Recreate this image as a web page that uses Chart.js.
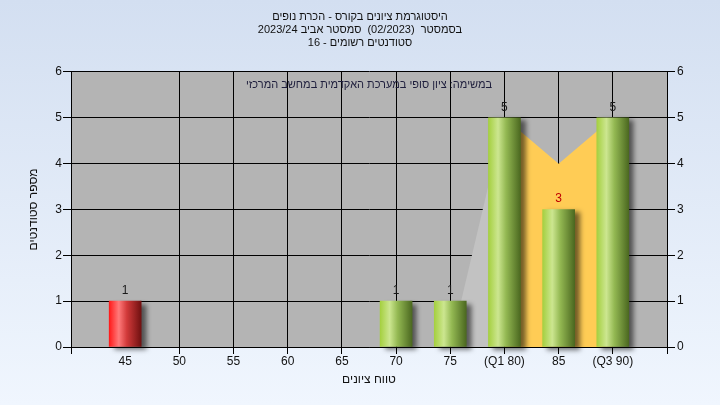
<!DOCTYPE html>
<html><head><meta charset="utf-8">
<script src="https://cdn.jsdelivr.net/npm/chart.js@4"></script>
<style>
html,body{margin:0;padding:0;}
body{width:720px;height:405px;overflow:hidden;background:linear-gradient(#D3DFF1,#F0F6FE);}
</style></head><body>
<canvas id="c" width="720" height="405"></canvas>
<script>
// ---- data ----
const categories = [45, 50, 55, 60, 65, 70, 75, 80, 85, 90];
const tickLabels = ['45', '50', '55', '60', '65', '70', '75', '(Q1 80)', '85', '(Q3 90)'];
const counts = [1, 0, 0, 0, 0, 1, 1, 5, 3, 5];
const iqrX = [80, 85, 90];
const iqrValues = [5, 4, 5];
const rampX = [75, 80];
const rampValues = [0, 5];
const yTicks = [0, 1, 2, 3, 4, 5, 6];
const titleLines = ['היסטוגרמת ציונים בקורס - הכרת נופים', 'בסמסטר  (02/2023)  סמסטר אביב 2023/24', 'סטודנטים רשומים - 16'];
const noteText = 'במשימה: ציון סופי במערכת האקדמית במחשב המרכזי';
const xTitle = 'טווח ציונים';
const yTitle = 'מספר סטודנטים';
const failLimit = 55;
const medianCategory = 85;

// ---- styling ----
const FONT = 'Liberation Sans, Arial, sans-serif';
const BAR_W = 32;

function barFill(ctx) {
  const chart = ctx.chart;
  if (!chart.chartArea || !ctx.raw || !ctx.raw.y) return 'rgba(0,0,0,0)';
  const cx = chart.scales.x.getPixelForValue(ctx.raw.x);
  const g = chart.ctx.createLinearGradient(cx - BAR_W / 2, 0, cx + BAR_W / 2, 0);
  if (ctx.raw.x < failLimit) {
    g.addColorStop(0, '#FF1A1A'); g.addColorStop(0.3, '#FF7A7A');
    g.addColorStop(0.55, '#D23A3A'); g.addColorStop(1, '#701010');
  } else {
    g.addColorStop(0, '#A5D040'); g.addColorStop(0.3, '#CCE690');
    g.addColorStop(0.55, '#93B852'); g.addColorStop(1, '#4B6820');
  }
  return g;
}

const plotBg = {
  id: 'plotBg',
  beforeDraw(chart) {
    const a = chart.chartArea, c = chart.ctx;
    c.save(); c.fillStyle = '#B4B4B4'; c.fillRect(a.left, a.top, a.right - a.left, a.bottom - a.top); c.restore();
  }
};
const shadow = {
  id: 'shadow',
  beforeDatasetDraw(chart, args) {
    if (args.meta.type !== 'bar') return;
    const c = chart.ctx; c.save();
    c.shadowColor = 'rgba(0,0,0,0.55)'; c.shadowBlur = 5; c.shadowOffsetX = 5; c.shadowOffsetY = 3;
  },
  afterDatasetDraw(chart, args) { if (args.meta.type === 'bar') chart.ctx.restore(); }
};
const labels = {
  id: 'labels',
  afterDatasetsDraw(chart) {
    const c = chart.ctx, a = chart.chartArea;
    c.save();
    c.font = '11px ' + FONT; c.textAlign = 'center'; c.textBaseline = 'middle';
    c.fillStyle = '#1E1E3C';
    c.fillText(noteText, (a.left + a.right) / 2, a.top + 13);
    c.font = '12px ' + FONT;
    const meta = chart.getDatasetMeta(0);
    meta.data.forEach((el, i) => {
      const raw = chart.data.datasets[0].data[i];
      if (!raw || !raw.y) return;
      c.fillStyle = raw.x === medianCategory ? '#C00000' : '#1A1A1A';
      c.textBaseline = 'alphabetic';
      c.fillText(String(raw.y), el.x, el.y - 7);
    });
    c.restore();
  }
};

const barData = categories.map((x, i) => ({ x: x, y: counts[i] }));
const iqrData = iqrX.map((x, i) => ({ x: x, y: iqrValues[i] }));
const rampData = rampX.map((x, i) => ({ x: x, y: rampValues[i] }));

new Chart(document.getElementById('c'), {
  type: 'bar',
  data: {
    datasets: [
      { type: 'bar', data: barData, backgroundColor: barFill, borderWidth: 0, barThickness: BAR_W, order: 0, clip: false },
      { type: 'line', data: iqrData, backgroundColor: 'rgb(255,204,85)', borderWidth: 0, pointRadius: 0, fill: 'origin', tension: 0, order: 1 },
      { type: 'line', data: rampData, backgroundColor: '#C2C2C2', borderWidth: 0, pointRadius: 0, fill: 'origin', tension: 0, order: 2 }
    ]
  },
  options: {
    responsive: false, animation: false, devicePixelRatio: 1,
    layout: { padding: 0 },
    plugins: {
      legend: { display: false }, tooltip: { enabled: false },
      title: { display: true, text: titleLines, color: '#111', font: { family: FONT, size: 11, weight: 'normal', lineHeight: 1.15 }, padding: { top: 11, bottom: 23 } }
    },
    scales: {
      x: {
        type: 'linear', min: 40, max: 95, offset: false,
        afterFit(s) { s.height = 58; },
        ticks: { stepSize: 5, autoSkip: false, maxRotation: 0, padding: 0, color: '#111', font: { family: FONT, size: 12 },
          callback(v) { const i = categories.indexOf(v); return i >= 0 ? tickLabels[i] : ''; } },
        grid: { offset: false, color(ctx) { return ctx.tick && ctx.tick.value === categories[0] ? 'rgba(0,0,0,0)' : '#000'; }, lineWidth: 1, tickLength: 7 },
        border: { display: true, color: '#000' },
        title: { display: true, text: xTitle, color: '#111', font: { family: FONT, size: 12 }, padding: { top: 0, bottom: 18 } }
      },
      y: {
        position: 'left', min: 0, max: 6,
        afterFit(s) { s.width = 71; },
        afterBuildTicks(s) { s.ticks = yTicks.map(v => ({ value: v })); },
        ticks: { padding: 1, color: '#111', font: { family: FONT, size: 12 } },
        grid: { color: '#000', lineWidth: 1, tickLength: 8 },
        border: { display: true, color: '#000' },
        title: { display: true, text: yTitle, color: '#111', font: { family: FONT, size: 12 }, padding: { top: 26, bottom: 0 } }
      },
      y2: {
        position: 'right', min: 0, max: 6,
        afterFit(s) { s.width = 53; },
        afterBuildTicks(s) { s.ticks = yTicks.map(v => ({ value: v })); },
        ticks: { padding: 2, color: '#111', font: { family: FONT, size: 12 } },
        grid: { drawOnChartArea: false, color: '#000', tickLength: 8 },
        border: { display: true, color: '#000' }
      }
    }
  },
  plugins: [plotBg, shadow, labels]
});
</script>
</body></html>
